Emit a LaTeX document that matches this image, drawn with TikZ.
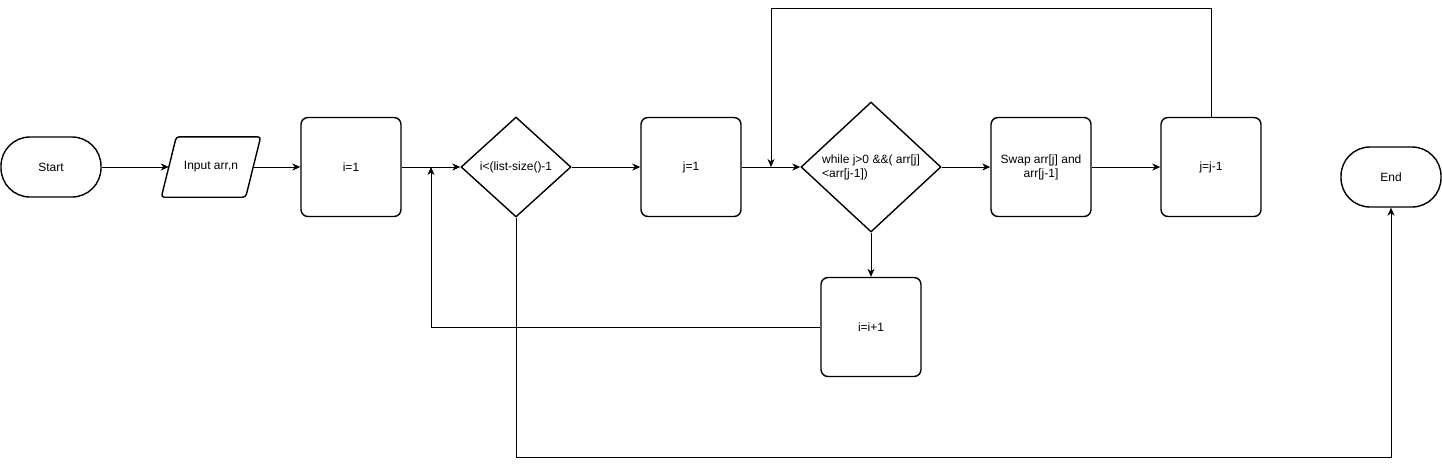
\documentclass[tikz,border=0pt]{standalone}
\usepackage{fontspec}
\setmainfont{Liberation Sans}
\usetikzlibrary{shapes.geometric, positioning, arrows.meta}

\tikzset{
  term/.style={draw, line width=1.4pt, rounded corners=29pt, minimum width=100pt, minimum height=60pt},
  io/.style={minimum width=99pt, minimum height=60pt, inner sep=0pt},
  slant/.style={draw, line width=1.4pt, rounded corners=3pt},
  proc/.style={draw, line width=1.4pt, rounded corners=7pt, minimum width=100pt, minimum height=99pt},
  cond/.style={draw, line width=1.4pt, diamond, inner sep=0pt},
  flow/.style={line width=0.9pt, -{Stealth[length=8pt,width=7pt,inset=2.5pt]}}
}

\begin{document}
\begin{tikzpicture}[x=1pt,y=-1pt,on grid,font=\fontsize{12}{14}\selectfont]
   \useasboundingbox (0,0) rectangle (1442,466);
   \node[term] (start) at (51,167) {Start};
   \node[io] (input) [right=160pt of start] {Input arr,n};
   \node[proc] (iinit) [right=140pt of input] {i=1};
   \node[cond, minimum width=110pt, minimum height=100pt] (outer) [right=165pt of iinit] {i<(list-size()-1};
   \node[proc] (jinit) [right=175pt of outer] {j=1};
   \node[cond, minimum width=140pt, minimum height=130pt, align=left] (inner) [right=180pt of jinit] {while j>0 \&\&( arr[j]\\<arr[j-1])};
   \node[proc, align=center] (swap) [right=170pt of inner] {Swap arr[j] and\\arr[j-1]};
   \node[proc] (jdec) [right=170pt of swap] {j=j-1};
   \node[term] (end) [below right=10pt and 180pt of jdec] {End};
   \node[proc] (iinc) [below=160pt of inner] {i=i+1};
   % parallelogram round the input node
   \draw[slant] ([xshift=15pt]input.north west) -- (input.north east)
     -- ([xshift=-15pt]input.south east) -- (input.south west) -- cycle;
   \coordinate (ijoin) at (431,167);
   \coordinate (jjoin) at (771,167);
   \coordinate (top) at (1211,8);
   \coordinate (bottom) at (516,457);
   \path[flow]
    (start) edge ([xshift=7.5pt]input.west)
    ([xshift=-7.5pt]input.east) edge (iinit)
    (outer) edge (jinit)
    (inner) edge (swap)
    (swap) edge (jdec)
    (inner) edge (iinc);
   \draw[line width=0.9pt] (iinit) -- (ijoin);
   \draw[flow] (ijoin) -- (outer);
   \draw[line width=0.9pt] (jinit) -- (jjoin);
   \draw[flow] (jjoin) -- (inner);
   \draw[flow] (iinc) -| (ijoin);
   \draw[flow] (jdec) -- (top) -| (jjoin);
   \draw[flow] (outer) -- (bottom) -| (end);
\end{tikzpicture}
\end{document}
